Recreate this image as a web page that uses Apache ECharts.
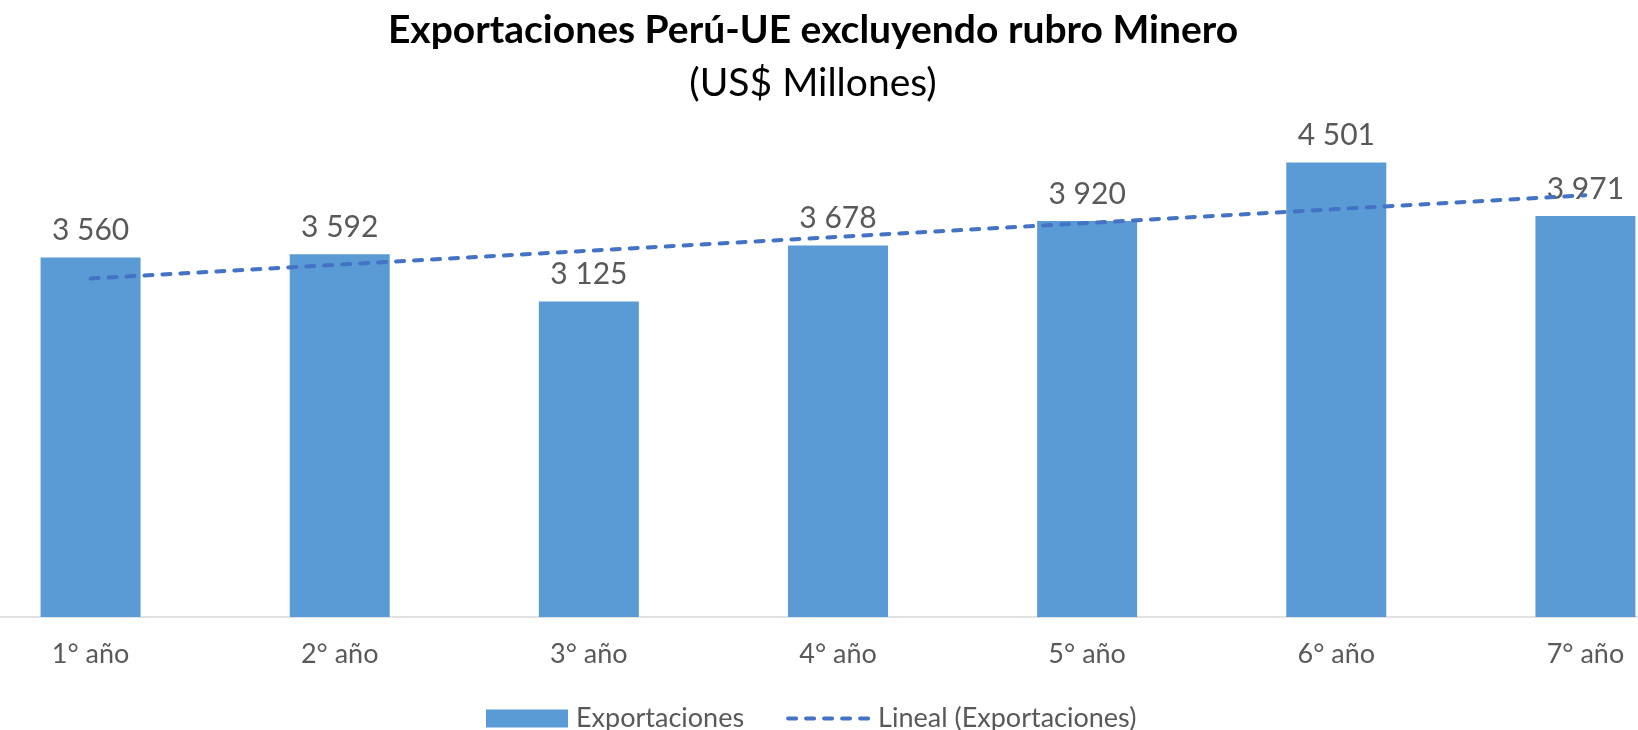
<!DOCTYPE html>
<html>
<head>
<meta charset="utf-8">
<script src="https://cdn.jsdelivr.net/npm/echarts@6/dist/echarts.min.js"></script>
<style>
  html, body { margin: 0; padding: 0; background: #fff; }
  #chart { width: 1638px; height: 730px; }
</style>
</head>
<body>
<div id="chart"></div>
<script>
const categories = ['1° año', '2° año', '3° año', '4° año', '5° año', '6° año', '7° año']
const exportaciones = [3560, 3592, 3125, 3678, 3920, 4501, 3971]
// trend line (linear)
const tendencia = [3352, 3489, 3627, 3764, 3901, 4039, 4176]

const chart = echarts.init(document.getElementById('chart'))

// numbers shown as "3 560"
function fmt(v) {
  return String(v).replace(/\B(?=(\d{3})+(?!\d))/g, ' ')
}

const trendLine = {
  color: '#4472C4',
  width: 4,
  type: [8, 10],
  cap: 'round'
}

chart.setOption({
  animation: false,
  textStyle: { fontFamily: 'Lato' },
  title: {
    text: 'Exportaciones Perú-UE excluyendo rubro Minero',
    subtext: '(US$ Millones)',
    left: 808,
    textAlign: 'center',
    top: 6,
    itemGap: 14,
    textStyle: {
      fontFamily: 'Lato',
      fontWeight: 'bold',
      fontSize: 39,
      color: '#000'
    },
    subtextStyle: {
      fontFamily: 'Lato',
      fontSize: 39,
      color: '#000'
    }
  },
  legend: {
    top: 700,
    left: 481,
    itemWidth: 82,
    itemHeight: 18,
    itemGap: 42,
    textStyle: { fontSize: 27, color: '#595959', fontFamily: 'Lato', padding: [0, 0, 0, 3] },
    data: [
      { name: 'Exportaciones', icon: 'rect' },
      { name: 'Lineal (Exportaciones)', itemStyle: { opacity: 0 }, lineStyle: trendLine }
    ]
  },
  grid: {
    left: -34,
    right: -72,
    top: 112,
    bottom: 113,
    containLabel: false,
    outerBoundsMode: 'none'
  },
  xAxis: {
    type: 'category',
    data: categories,
    axisTick: { show: false },
    axisLine: { lineStyle: { color: '#D9D9D9', width: 1.5 } },
    axisLabel: {
      margin: 24,
      fontSize: 27,
      color: '#595959',
      fontFamily: 'Lato'
    }
  },
  yAxis: {
    type: 'value',
    min: 0,
    max: 5000,
    show: false,
    splitLine: { show: false }
  },
  series: [
    {
      name: 'Exportaciones',
      type: 'bar',
      data: exportaciones,
      barWidth: 100,
      itemStyle: { color: '#5B9BD5' },
      label: {
        show: true,
        position: 'top',
        distance: 12,
        fontSize: 30,
        color: '#595959',
        fontFamily: 'Lato',
        formatter: p => fmt(p.value)
      }
    },
    {
      name: 'Lineal (Exportaciones)',
      type: 'line',
      data: tendencia,
      symbol: 'none',
      z: 3,
      itemStyle: { color: '#4472C4' },
      lineStyle: trendLine
    }
  ]
})
</script>
</body>
</html>
